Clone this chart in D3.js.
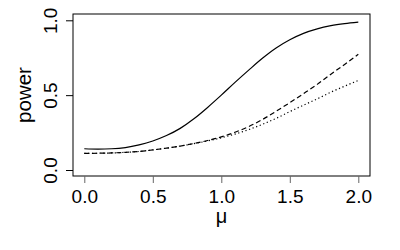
<!DOCTYPE html>
<html>
<head>
<meta charset="utf-8">
<script src="https://cdn.jsdelivr.net/npm/d3@7"></script>
<style>
  body { margin: 0; background: #fff; }
  text { font-family: "Liberation Sans", Arial, sans-serif; }
</style>
</head>
<body>
<div id="chart"></div>
<script>
// values
var mu = [0.0, 0.1, 0.2, 0.3, 0.4, 0.5, 0.6, 0.7, 0.8, 0.9, 1.0, 1.1, 1.2, 1.3, 1.4, 1.5, 1.6, 1.7, 1.8, 1.9, 2.0];
var powerSolid = [0.142, 0.140, 0.142, 0.150, 0.168, 0.194, 0.230, 0.278, 0.342, 0.418, 0.500, 0.585, 0.667, 0.746, 0.815, 0.870, 0.913, 0.943, 0.964, 0.978, 0.988];
var powerDashed = [0.111, 0.112, 0.114, 0.118, 0.124, 0.134, 0.146, 0.160, 0.177, 0.197, 0.221, 0.252, 0.290, 0.337, 0.392, 0.450, 0.510, 0.572, 0.640, 0.705, 0.773];
var powerDotted = [0.111, 0.112, 0.114, 0.118, 0.124, 0.134, 0.146, 0.160, 0.176, 0.194, 0.215, 0.240, 0.270, 0.305, 0.345, 0.390, 0.433, 0.475, 0.520, 0.560, 0.598];
var xTicks = [0, 0.5, 1, 1.5, 2];
var yTicks = [0, 0.5, 1];

var width = 400, height = 250;
var box = {left: 73, right: 370, top: 14, bottom: 176};

var x = d3.scaleLinear().domain([0, 2]).range([84.3, 358.3]);
var y = d3.scaleLinear().domain([0, 1]).range([170, 20.3]);

var svg = d3.select("#chart").append("svg")
    .attr("width", width)
    .attr("height", height);

// plot frame
svg.append("rect")
    .attr("x", box.left)
    .attr("y", box.top)
    .attr("width", box.right - box.left)
    .attr("height", box.bottom - box.top)
    .attr("fill", "none")
    .attr("stroke", "#000")
    .attr("stroke-width", 1);

var xAxis = svg.append("g")
    .attr("transform", "translate(0," + box.bottom + ")")
    .call(d3.axisBottom(x).tickValues(xTicks).tickFormat(d3.format(".1f")).tickSize(7));
xAxis.select(".domain").remove();
xAxis.selectAll("line").attr("stroke", "#666");
xAxis.selectAll("text")
    .attr("fill", "#000")
    .attr("y", 26.7)
    .attr("dy", 0)
    .style("font-size", "19px");

var yAxis = svg.append("g")
    .attr("transform", "translate(" + box.left + ",0)")
    .call(d3.axisLeft(y).tickValues(yTicks).tickFormat(d3.format(".1f")).tickSize(7));
yAxis.select(".domain").remove();
yAxis.selectAll("line").attr("stroke", "#000");
yAxis.selectAll("text")
    .attr("fill", "#000")
    .attr("x", 0)
    .attr("dy", 0)
    .attr("text-anchor", "middle")
    .attr("transform", "translate(-16.3,0) rotate(-90)")
    .style("font-size", "19px");

var line = d3.line()
    .x((d, i) => x(mu[i]))
    .y(d => y(d))
    .curve(d3.curveMonotoneX);

svg.append("path")
    .datum(powerSolid)
    .attr("d", line)
    .attr("fill", "none")
    .attr("stroke", "#000")
    .attr("stroke-width", 1.2);

svg.append("path")
    .datum(powerDashed)
    .attr("d", line)
    .attr("fill", "none")
    .attr("stroke", "#000")
    .attr("stroke-width", 1.2)
    .attr("stroke-dasharray", "5,3");

svg.append("path")
    .datum(powerDotted)
    .attr("d", line)
    .attr("fill", "none")
    .attr("stroke", "#000")
    .attr("stroke-width", 1.2)
    .attr("stroke-dasharray", "1.2,2.6");

// axis titles
svg.append("text")
    .attr("x", (box.left + box.right) / 2)
    .attr("y", 222.5)
    .attr("text-anchor", "middle")
    .style("font-size", "20px")
    .text("μ");

svg.append("text")
    .attr("transform", "translate(30.5," + ((box.top + box.bottom) / 2) + ") rotate(-90)")
    .attr("text-anchor", "middle")
    .style("font-size", "20.5px")
    .text("power");
</script>
</body>
</html>
